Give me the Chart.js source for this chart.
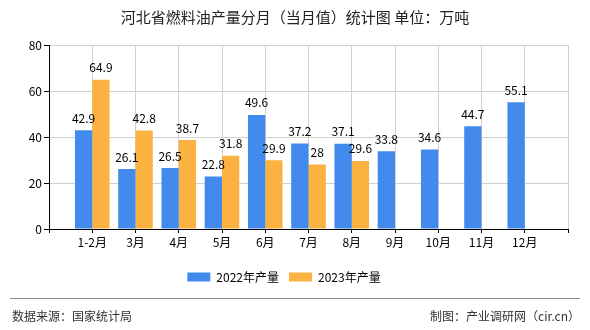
<!DOCTYPE html>
<html><head><meta charset="utf-8">
<script src="https://cdn.jsdelivr.net/npm/chart.js@4/dist/chart.umd.min.js"></script>
<style>html,body{margin:0;padding:0;background:#fff;}#wrap{width:590px;height:330px;position:relative;}</style>
</head><body><div id="wrap"><canvas id="c" width="590" height="330"></canvas></div>
<script>
const categories = ['1-2月','3月','4月','5月','6月','7月','8月','9月','10月','11月','12月'];
const series2022 = [42.9, 26.1, 26.5, 22.8, 49.6, 37.2, 37.1, 33.8, 34.6, 44.7, 55.1];
const series2023 = [64.9, 42.8, 38.7, 31.8, 29.9, 28, 29.6, null, null, null, null];
const seriesNames = ['2022年产量', '2023年产量'];
const yTicks = [0, 20, 40, 60, 80];
const titleText = '河北省燃料油产量分月（当月值）统计图 单位：万吨';
const sourceText = '数据来源：国家统计局';
const creditText = '制图：产业调研网（cir.cn）';

const FONT = "'Noto Sans CJK SC', 'Noto Sans', sans-serif";
const labels = [''].concat(categories, ['']);
const d1 = [null].concat(series2022, [null]);
const d2 = [null].concat(series2023, [null]);

const extras = {
  id: 'extras',
  afterDatasetsDraw(chart) {
    const ctx = chart.ctx;
    ctx.save();
    ctx.font = '12px ' + FONT;
    ctx.fillStyle = '#000';
    ctx.textAlign = 'center';
    ctx.textBaseline = 'bottom';
    chart.data.datasets.forEach((ds, i) => {
      const meta = chart.getDatasetMeta(i);
      meta.data.forEach((bar, j) => {
        const v = ds.data[j];
        if (v === null || v === undefined) return;
        ctx.fillText(String(v), bar.x, bar.y - 6);
      });
    });
    ctx.restore();
  },
  afterDraw(chart) {
    const ctx = chart.ctx;
    ctx.save();
    ctx.fillStyle = '#222';
    ctx.font = '15px ' + FONT;
    ctx.textAlign = 'center';
    ctx.textBaseline = 'middle';
    ctx.fillText(titleText, 295, 17);
    ctx.strokeStyle = '#8c8c8c';
    ctx.lineWidth = 1;
    ctx.beginPath(); ctx.moveTo(10, 298.5); ctx.lineTo(580, 298.5); ctx.stroke();
    ctx.font = '12px ' + FONT;
    ctx.fillStyle = '#333';
    ctx.textAlign = 'left';
    ctx.fillText(sourceText, 12, 316);
    ctx.textAlign = 'right';
    ctx.fillText(creditText, 580, 316);
    ctx.restore();
  }
};

new Chart(document.getElementById('c'), {
  type: 'bar',
  data: {
    labels: labels,
    datasets: [
      { label: seriesNames[0], data: d1, backgroundColor: '#428bed' },
      { label: seriesNames[1], data: d2, backgroundColor: '#fbb241' }
    ]
  },
  options: {
    responsive: false,
    animation: false,
    devicePixelRatio: 1,
    layout: { padding: { top: 45, right: 22, bottom: 37, left: 0 } },
    datasets: { bar: { categoryPercentage: 0.8, barPercentage: 1.0 } },
    plugins: {
      title: { display: false },
      tooltip: { enabled: false },
      legend: {
        position: 'bottom',
        labels: { boxWidth: 23, boxHeight: 9, padding: 10, color: '#000', font: { family: FONT, size: 12 } }
      }
    },
    scales: {
      x: {
        offset: false,
        grid: { offset: false, color: '#d0d0d0', tickColor: '#000', tickLength: 4, drawOnChartArea: true },
        border: { color: '#000', width: 1 },
        ticks: { color: '#000', font: { family: FONT, size: 12 }, maxRotation: 0, autoSkip: false, padding: 2 },
        afterFit(s) { s.height = 32; }
      },
      y: {
        min: 0, max: 80,
        afterBuildTicks(s) { s.ticks = yTicks.map(v => ({ value: v })); },
        grid: { color: '#d0d0d0', tickColor: '#000', tickLength: 5 },
        border: { color: '#000', width: 1 },
        ticks: { color: '#000', font: { family: FONT, size: 12 }, padding: 2 },
        afterFit(s) { s.width = 49; }
      }
    }
  },
  plugins: [extras]
});
</script></body></html>
